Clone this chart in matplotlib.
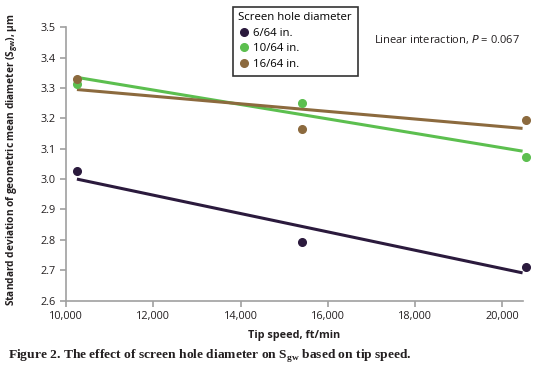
import matplotlib
matplotlib.use("Agg")
import matplotlib.pyplot as plt

# tip speed (ft/min) of the measured points, and the span of the fitted lines
tip_speed = [10250, 15400, 20550]
fit_speed = [10250, 20460]

labels = ["6/64 in.", "10/64 in.", "16/64 in."]
colors = ["#2b1a3d", "#5cbf4f", "#8c6a3e"]

# measured S_gw (µm)
sgw_6 = [3.025, 2.792, 2.711]
sgw_10 = [3.313, 3.249, 3.073]
sgw_16 = [3.329, 3.164, 3.196]

# linear fits, value at start and end of fit_speed
fit_6 = [3.000, 2.691]
fit_10 = [3.335, 3.092]
fit_16 = [3.295, 3.167]

yticks = [2.6, 2.7, 2.8, 2.9, 3.0, 3.1, 3.2, 3.3, 3.4, 3.5]
xticks = [10000, 12000, 14000, 16000, 18000, 20000]


def main():
	plt.rcParams["font.family"] = ["Open Sans", "DejaVu Sans"]
	fig = plt.figure(figsize=(5.43, 3.70), dpi=100, facecolor="white")
	ax = fig.add_axes([66 / 543, 1 - 300.5 / 370, (523 - 66) / 543, (300.5 - 27.3) / 370])

	series = [(sgw_6, fit_6), (sgw_10, fit_10), (sgw_16, fit_16)]
	for (pts, fit), lab, col in zip(series, labels, colors):
		ax.plot(fit_speed, fit, color=col, lw=2.2, solid_capstyle="butt", clip_on=False)
		ax.plot(tip_speed, pts, "o", color=col, ms=5.5, label=lab, clip_on=False, zorder=3)

	ax.set_xlim(10000, 20470)
	ax.set_ylim(2.6, 3.5)
	ax.set_xticks(xticks)
	ax.set_xticklabels(["{:,}".format(x) for x in xticks])
	ax.set_yticks(yticks)
	ax.set_yticklabels(["%.1f" % y for y in yticks])
	for s in ["top", "right"]:
		ax.spines[s].set_visible(False)
	for s in ["left", "bottom"]:
		ax.spines[s].set_color("#a0a0a0")
		ax.spines[s].set_linewidth(1.2)
	ax.tick_params(colors="#a0a0a0", labelcolor="#231f20", labelsize=7.8, length=4, width=1.2)

	ax.set_xlabel("Tip speed, ft/min", fontsize=7.8, fontweight="bold", color="#231f20", labelpad=6)
	fig.text(0.022, 0.568, r"Standard deviation of geometric mean diameter (S$_{\mathregular{gw}}$), µm",
		rotation=90, fontsize=7.3, fontweight="bold", color="#231f20", ha="center", va="center")

	leg = ax.legend(title="Screen hole diameter", loc="upper left", bbox_to_anchor=(0.365, 1.076),
		borderaxespad=0, fontsize=8.2, title_fontsize=8.2, frameon=True, fancybox=False,
		handletextpad=0.3, borderpad=0.5, labelspacing=0.4, handlelength=1.0)
	leg.get_frame().set_edgecolor("black")
	leg.get_frame().set_linewidth(1.2)
	leg._legend_box.align = "left"

	ax.text(0.675, 0.957, r"Linear interaction, $\it{P}$ = 0.067", transform=ax.transAxes,
		fontsize=8, color="#231f20", va="center")

	fig.text(0.015, 0.04, r"Figure 2. The effect of screen hole diameter on S$_{\mathregular{gw}}$ based on tip speed.",
		fontsize=9.7, fontweight="bold", family="Liberation Serif", color="#231f20", va="center")

	plt.savefig("out.png", dpi=100, facecolor="white")


if __name__ == "__main__":
	main()
